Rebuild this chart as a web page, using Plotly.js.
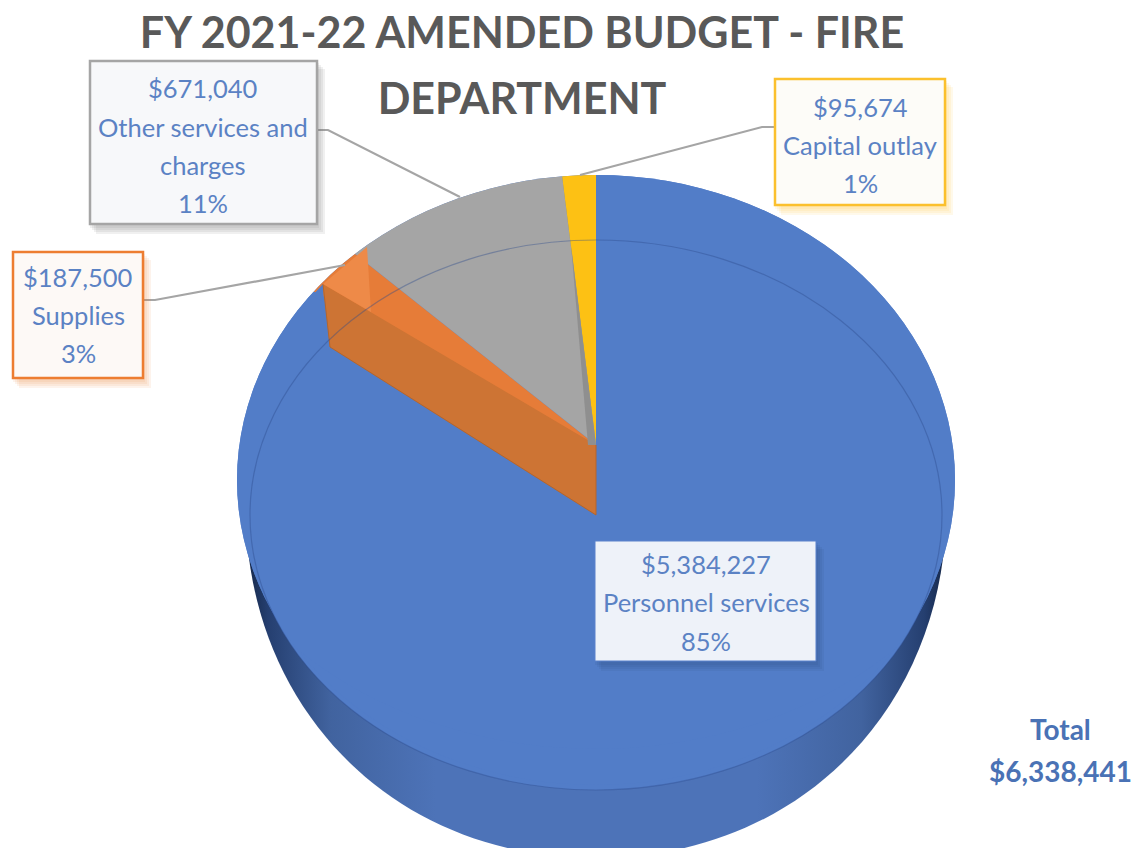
<!DOCTYPE html>
<html>
<head>
<meta charset="utf-8">
<script src="https://cdn.plot.ly/plotly-3.0.1.min.js"></script>
<style>html,body{margin:0;padding:0;background:#fff}#chart{width:1135px;height:848px}</style>
</head>
<body>
<div id="chart"></div>
<script>
var categories = ["Personnel services", "Supplies", "Other services and charges", "Capital outlay"];
var amounts = [5384227, 187500, 671040, 95674];
var percentLabels = ["85%", "3%", "11%", "1%"];
var sliceColors = ["#527dc8", "#e67c38", "#a5a5a5", "#fdc114"];
var totalAmount = 6338441;
var titleLines = ["FY 2021-22 AMENDED BUDGET - FIRE", "DEPARTMENT"];

var W = 1135, H = 848;
function px(x){ return x / W; }
function py(y){ return 1 - y / H; }
function money(v){ return "$" + v.toLocaleString("en-US"); }
function ell(cx, cy, rx, ry, o){
  return Object.assign({type:"circle", xref:"paper", yref:"paper", x0:px(cx-rx), x1:px(cx+rx), y0:py(cy+ry), y1:py(cy-ry), line:{width:0}}, o);
}
function poly(points, o){
  var d = points.map(function(p,i){ return (i?"L":"M") + px(p[0]) + "," + py(p[1]); }).join(" ");
  return Object.assign({type:"path", xref:"paper", yref:"paper", path:d, line:{width:0}}, o);
}
function rect(x0,y0,x1,y1,o){
  return Object.assign({type:"rect", xref:"paper", yref:"paper", x0:px(x0), x1:px(x1), y0:py(y1), y1:py(y0), layer:"above"}, o);
}
var face = sliceColors[0];
var silhouette = "M"+px(247)+","+py(540)+" C"+px(262)+","+py(720)+" "+px(400)+","+py(858)+" "+px(596)+","+py(858)+
  " C"+px(792)+","+py(858)+" "+px(930)+","+py(720)+" "+px(945)+","+py(540)+" Z";

var shapes = [
  {type:"path", xref:"paper", yref:"paper", path:silhouette, fillcolor:"#4d73b8", line:{width:0}, layer:"below"},
  ell(596,515,346,275,{fillcolor:face, layer:"below"}),
  ell(596,480,359,305,{fillcolor:face, layer:"below"}),
  // trims the pulled slice's outer tip, then its cut walls
  poly([[323,284],[312,296],[324,302]],{fillcolor:face, layer:"above"}),
  poly([[323,284],[330,347],[596,515],[596,445]],{fillcolor:"#cd7434", layer:"above", line:{color:"#b5652c",width:1}}),
  poly([[367,247],[323,284],[371,312]],{fillcolor:"#ee8a48", layer:"above"}),
  poly([[571,245],[596,445],[588,445]],{fillcolor:"#8f8f8f", layer:"above"}),
  // thin see-through rim
  ell(596,515,346,275,{fillcolor:"rgba(0,0,0,0)", layer:"above", line:{color:"rgba(45,75,140,0.4)",width:1.2}})
];

var boxes = [
  {x0:595, y0:541, x1:816, y1:661, border:"#5b82cc", fill:"#eef2f9", bw:1, shadow:"rgba(30,50,100,0.07)",
   lines:[564,602,641], cx:706, text:[money(amounts[0]), categories[0], percentLabels[0]]},
  {x0:13, y0:252, x1:143, y1:378, border:"#ed7d31", fill:"#fdf9f6", bw:2.5, shadow:"rgba(237,125,49,0.09)",
   lines:[277,315,353], cx:78, text:[money(amounts[1]), "Supplies", percentLabels[1]]},
  {x0:90, y0:61, x1:317, y1:224, border:"#a5a5a5", fill:"#f7f8fa", bw:2.5, shadow:"rgba(110,110,110,0.1)",
   lines:[88,127,165,203], cx:203, text:[money(amounts[2]), "Other services and", "charges", percentLabels[2]]},
  {x0:775, y0:79, x1:945, y1:205, border:"#fbc02d", fill:"#fdfcf8", bw:2.5, shadow:"rgba(251,192,45,0.1)",
   lines:[107,145,183], cx:860, text:[money(amounts[3]), categories[3], percentLabels[3]]}
];
var connectors = [
  [[309,130],[328,130],[460,197]],
  [[143,300],[155,300],[345,265]],
  [[775,127],[762,127],[580,175]]
];
connectors.forEach(function(c){
  var d = c.map(function(p,i){ return (i?"L":"M")+px(p[0])+","+py(p[1]); }).join(" ");
  shapes.push({type:"path", xref:"paper", yref:"paper", path:d, layer:"above", line:{color:"#a5a5a5",width:2.2}});
});

var annotations = [];
function textAt(cx, cy, t, size, color, bold){
  annotations.push({xref:"paper", yref:"paper", x:px(cx), y:py(cy), xanchor:"center", yanchor:"middle", showarrow:false,
    text: bold ? "<b>"+t+"</b>" : t, font:{family:"Lato, 'Open Sans', sans-serif", size:size, color:color}});
}
boxes.forEach(function(b){
  [[8,10],[6,8],[4,6],[2,4]].forEach(function(o){
    shapes.push(rect(b.x0+o[0]-2,b.y0+o[1]-2,b.x1+o[0],b.y1+o[1],{fillcolor:b.shadow, line:{width:0}}));
  });
  shapes.push(rect(b.x0,b.y0,b.x1,b.y1,{fillcolor:b.fill, line:{color:b.border,width:b.bw}}));
  b.text.forEach(function(t,k){ textAt(b.cx, b.lines[k], t, 25.5, "#5b82c4", false); });
});
textAt(1060, 729, "Total", 28, "#4a72b5", true);
textAt(1060, 771, money(totalAmount), 28, "#4a72b5", true);

var trace = {
  type:"pie", labels:categories, values:amounts, sort:false, direction:"clockwise", rotation:0,
  marker:{colors:sliceColors, line:{width:0}}, textinfo:"none", hoverinfo:"label+value+percent", showlegend:false,
  domain:{x:[px(193),px(999)], y:[py(848),py(42)]}
};
var layout = {
  width:W, height:H, margin:{l:0,r:0,t:0,b:0}, paper_bgcolor:"#fff", showlegend:false,
  title:{text:titleLines.join("<br>"), x:px(522), xanchor:"center", xref:"paper", y:py(48), yanchor:"top", yref:"paper",
    font:{family:"Lato, 'Open Sans', sans-serif", size:43, color:"#595959", weight:700}, automargin:false},
  shapes:shapes, annotations:annotations
};
Plotly.newPlot("chart",[trace],layout,{displayModeBar:false,responsive:false}).then(function(gd){
  var svg = gd.querySelector("svg.main-svg");
  var ns = "http://www.w3.org/2000/svg";
  var defs = svg.querySelector("defs") || svg.insertBefore(document.createElementNS(ns,"defs"), svg.firstChild);
  // outer rim of the tilted disc: an ellipse whose centre sits below the slices' apex
  var cp = document.createElementNS(ns,"clipPath"); cp.setAttribute("id","discClip");
  var e = document.createElementNS(ns,"ellipse");
  e.setAttribute("cx","596"); e.setAttribute("cy","480"); e.setAttribute("rx","359"); e.setAttribute("ry","305");
  cp.appendChild(e); defs.appendChild(cp);
  var layer = gd.querySelector(".pielayer");
  if(layer) layer.setAttribute("clip-path","url(#discClip)");
  // squash the pie into the tilt seen in the reference
  var tr = gd.querySelector(".pielayer .trace");
  if(tr) tr.setAttribute("transform","translate(0,445) scale(1,0.754) translate(0,-445)");
  // gradient for the side wall
  var g = document.createElementNS(ns,"linearGradient");
  g.setAttribute("id","sideGrad"); g.setAttribute("gradientUnits","userSpaceOnUse");
  g.setAttribute("x1","247"); g.setAttribute("x2","945"); g.setAttribute("y1","0"); g.setAttribute("y2","0");
  [[0,"#16284a"],[0.03,"#253f70"],[0.12,"#41639f"],[0.27,"#4d73b8"],[0.73,"#4d73b8"],[0.88,"#41639f"],[0.97,"#253f70"],[1,"#16284a"]].forEach(function(s){
    var st = document.createElementNS(ns,"stop");
    st.setAttribute("offset",s[0]); st.setAttribute("stop-color",s[1]); g.appendChild(st);
  });
  defs.appendChild(g);
  var side = gd.querySelector(".shapelayer path");
  if(side) side.style.fill = "url(#sideGrad)";
  var t = gd.querySelectorAll(".gtitle tspan.line");
  if(t.length>1) t[1].setAttribute("dy","1.53em");
});
</script>
</body>
</html>
